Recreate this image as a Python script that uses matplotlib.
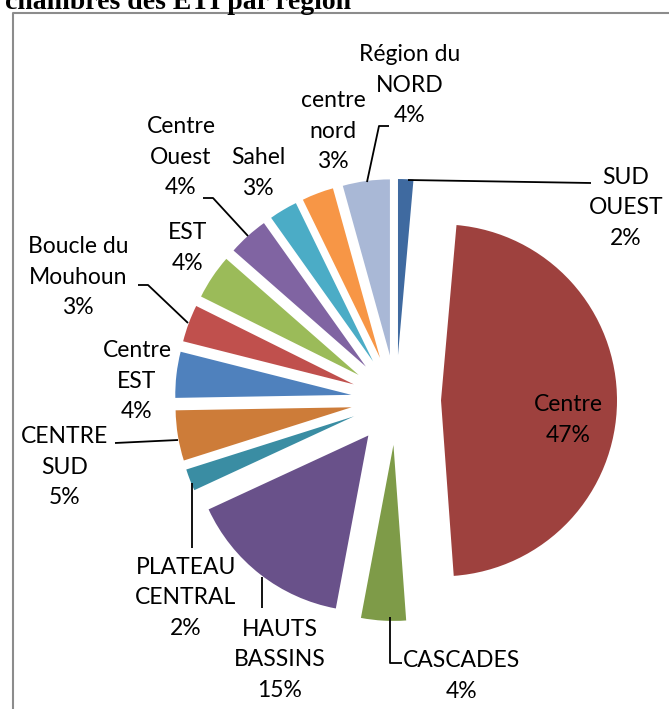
import numpy as np
import matplotlib
matplotlib.use("Agg")
import matplotlib.pyplot as plt

plt.rcParams['font.family'] = ['Lato', 'DejaVu Sans']

# shares of the chambers by region (clockwise from 12 o'clock)
regions = ["SUD\nOUEST", "Centre", "CASCADES", "HAUTS\nBASSINS", "PLATEAU\nCENTRAL",
           "CENTRE\nSUD", "Centre\nEST", "Boucle du\nMouhoun", "EST", "Centre\nOuest",
           "Sahel", "centre\nnord", "Région du\nNORD"]
shares = [1.4, 47.3, 4.1, 15.1, 2.0, 4.6, 4.2, 3.4, 4.1, 3.7, 2.6, 2.9, 4.3]
pct_labels = ["2%", "47%", "4%", "15%", "2%", "5%", "4%", "3%", "4%", "4%", "3%", "3%", "4%"]
colors = ["#3F6AA0", "#9E413E", "#7E9B48", "#69518A", "#3A8DA3", "#CD7C39", "#4F81BD",
          "#C0504D", "#9BBB59", "#8064A2", "#4BACC6", "#F79646", "#A9B8D6"]

W, H = 669, 709
fig = plt.figure(figsize=(W / 100, H / 100), dpi=100)
ax = fig.add_axes([0, 0, 1, 1])

cx, cy, r, gap = 396, 400, 176, 45
# y axis is inverted, so counterclockwise in data coords shows as clockwise
wedges, _ = ax.pie(shares, colors=colors, startangle=-90, counterclock=True,
                   radius=r, center=(cx, cy), explode=[gap] * len(shares),
                   wedgeprops=dict(linewidth=0), frame=True)
ax.set_xlim(0, W)
ax.set_ylim(H, 0)
ax.set_aspect("equal")
ax.axis("off")

# label block centres (pixels) and leader elbow points
label_pos = [(626, 208), (568, 420), (462, 676), (280, 660), (186, 598), (65, 467),
             (137, 381), (78, 277), (188, 248), (181, 157), (258, 173), (333, 131),
             (410, 85)]
leaders = {
    0: [(408, 180), (591, 183)],
    2: [(390, 617), (390, 663), (402, 663)],
    3: [(262, 577), (262, 608)],
    4: [(192, 483), (192, 548)],
    5: [(178, 440), (115, 443)],
    7: [(188, 323), (148, 285), (138, 285)],
    9: [(248, 236), (213, 198), (203, 198)],
    12: [(367, 182), (379, 126), (389, 126)],
}
for i, (name, pct) in enumerate(zip(regions, pct_labels)):
    x, y = label_pos[i]
    txt = name + "\n" + pct
    ax.text(x, y, txt, ha="center", va="center", fontsize=16.5,
            linespacing=1.55, color="black")
for pts in leaders.values():
    xs, ys = zip(*pts)
    ax.plot(xs, ys, color="black", lw=1.3, solid_capstyle="butt")

# frame of the chart area
ax.plot([12.5, 12.5, W], [H, 13, 13], color="#8c8c8c", lw=1.5)

# heading, cut off by the top of the image
ax.text(5, 9, "chambres des ETI par région", fontsize=20, fontweight="bold",
        family="Liberation Serif", ha="left", va="baseline")

fig.savefig("out.png", dpi=100)
